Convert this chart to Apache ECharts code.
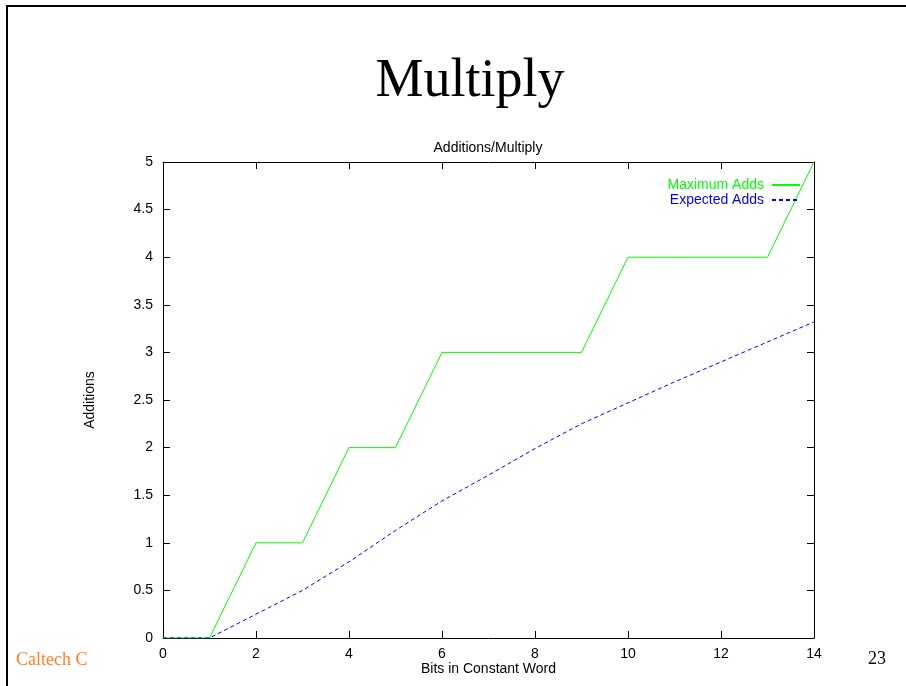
<!DOCTYPE html>
<html>
<head>
<meta charset="utf-8">
<script src="https://cdn.jsdelivr.net/npm/echarts@6/dist/echarts.min.js"></script>
<style>
html,body{margin:0;padding:0;background:#fff;}
#chart{width:906px;height:686px;}
</style>
</head>
<body>
<div id="chart"></div>
<script>
var bits = [0,1,2,3,4,5,6,7,8,9,10,11,12,13,14];
var maximumAdds = [0,0,1,1,2,2,3,3,3,3,4,4,4,4,5];
var expectedAdds = [0,0,0.25,0.5,0.8,1.13,1.44,1.71,1.99,2.25,2.47,2.69,2.9,3.11,3.32];
var seriesNames = ['Maximum Adds','Expected Adds'];
var slideTitle = 'Multiply';
var chartTitle = 'Additions/Multiply';
var xName = 'Bits in Constant Word';
var yName = 'Additions';
var footerLeft = 'Caltech C';
var pageNumber = '23';

function pairs(xs, ys){ return xs.map(function(x,i){ return [x, ys[i]]; }); }

var sans = 'Liberation Sans, Arial, Helvetica, sans-serif';
var serif = 'Liberation Serif, Times New Roman, serif';

var chart = echarts.init(document.getElementById('chart'), null, {renderer:'canvas'});
var tickStyle = {show:true, inside:true, length:7, lineStyle:{color:'#000', width:1}};
var axisLine = {show:true, onZero:false, lineStyle:{color:'#000', width:1}};
chart.setOption({
  animation:false,
  backgroundColor:'#fff',
  grid:{left:163, right:92, top:162, bottom:48, containLabel:false},
  xAxis:[{
    type:'value', min:0, max:14, interval:2, position:'bottom',
    axisLine:axisLine, axisTick:tickStyle, splitLine:{show:false},
    axisLabel:{color:'#000', fontFamily:sans, fontSize:14, margin:9},
    name:xName, nameLocation:'middle', nameGap:24, nameMoveOverlap:false,
    nameTextStyle:{color:'#000', fontFamily:sans, fontSize:14}
  },{
    type:'value', min:0, max:14, interval:2, position:'top',
    axisLine:axisLine, axisTick:tickStyle, splitLine:{show:false},
    axisLabel:{show:false}
  }],
  yAxis:[{
    type:'value', min:0, max:5, interval:0.5, position:'left',
    axisLine:axisLine, axisTick:tickStyle, splitLine:{show:false},
    axisLabel:{color:'#000', fontFamily:sans, fontSize:14, margin:10},
    name:yName, nameLocation:'middle', nameGap:66,
    nameTextStyle:{color:'#000', fontFamily:sans, fontSize:14}
  },{
    type:'value', min:0, max:5, interval:0.5, position:'right',
    axisLine:axisLine, axisTick:tickStyle, splitLine:{show:false},
    axisLabel:{show:false}
  }],
  legend:{
    orient:'vertical', align:'right', right:100, top:173,
    itemWidth:28, itemHeight:10, itemGap:1,
    itemStyle:{color:'rgba(0,0,0,0)', borderColor:'rgba(0,0,0,0)', borderWidth:0},
    textStyle:{fontFamily:sans, fontSize:14, padding:[0,3,0,0]},
    data:[
      {name:seriesNames[0], textStyle:{color:'#00ff00'}},
      {name:seriesNames[1], textStyle:{color:'#0000ff'}}
    ]
  },
  series:[{
    name:seriesNames[0], type:'line', data:pairs(bits, maximumAdds),
    symbol:'none', lineStyle:{color:'#00ff00', width:1}, itemStyle:{color:'#00ff00'}
  },{
    name:seriesNames[1], type:'line', data:pairs(bits, expectedAdds),
    symbol:'none', lineStyle:{color:'#0000ff', width:1, type:[4,3]}, itemStyle:{color:'#0000ff'}
  }],
  graphic:[
    {type:'rect', shape:{x:7, y:6, width:960, height:760}, style:{fill:'none', stroke:'#000', lineWidth:2}, silent:true},
    {type:'text', x:470, y:55, style:{text:slideTitle, font:'54px '+serif, fill:'#000', textAlign:'center', verticalAlign:'top'}},
    {type:'text', x:488, y:148, style:{text:chartTitle, font:'14px '+sans, fill:'#000', textAlign:'center', verticalAlign:'middle'}},
    {type:'text', x:16, y:660, style:{text:footerLeft, font:'18px '+serif, fill:'#ff7f2a', textAlign:'left', verticalAlign:'middle'}},
    {type:'text', x:886, y:659, style:{text:pageNumber, font:'18px '+serif, fill:'#000', textAlign:'right', verticalAlign:'middle'}}
  ]
});
</script>
</body>
</html>
